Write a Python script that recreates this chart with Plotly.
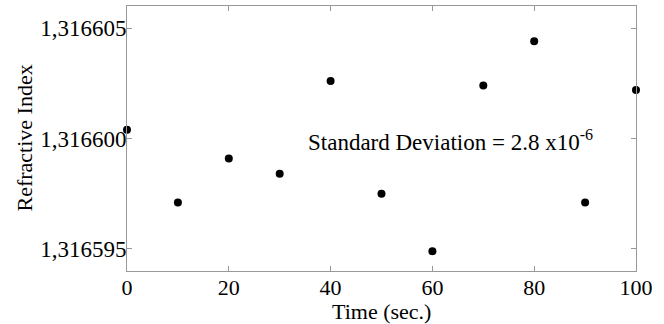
import plotly.graph_objects as go

time_s = [0, 10, 20, 30, 40, 50, 60, 70, 80, 90, 100]
refractive_index = [1.3166004, 1.3165971, 1.3165991, 1.3165984, 1.3166026,
                    1.3165975, 1.3165949, 1.3166024, 1.3166044, 1.3165971, 1.3166022]
y_tick_vals = [1.316595, 1.316600, 1.316605]
y_tick_text = ["1,316595", "1,316600", "1,316605"]
x_tick_vals = [0, 20, 40, 60, 80, 100]

font_family = "Liberation Serif, Times New Roman, serif"

fig = go.Figure()
fig.add_trace(go.Scatter(
    x=time_s, y=refractive_index, mode="markers",
    marker=dict(color="black", size=8), cliponaxis=False, showlegend=False))

axis_common = dict(showline=True, linecolor="#999999", linewidth=1, mirror="ticks",
                   ticks="inside", ticklen=5, tickcolor="#999999", showgrid=False,
                   zeroline=False)

fig.update_xaxes(range=[0, 100], tickvals=x_tick_vals,
                 tickfont=dict(family=font_family, size=22, color="black"),
                 ticklabelstandoff=-3,
                 **axis_common)
fig.update_yaxes(range=[1.316594, 1.316606], tickvals=y_tick_vals, ticktext=y_tick_text,
                 tickfont=dict(family=font_family, size=23, color="black"),
                 ticklabelstandoff=-5,
                 **axis_common)

fig.add_annotation(x=0.5, y=0, xref="paper", yref="paper", yanchor="middle",
                   yshift=-40, text="Time (sec.)", showarrow=False,
                   font=dict(family=font_family, size=22, color="black"))
fig.add_annotation(x=0, y=0.5, xref="paper", yref="paper", xanchor="center",
                   xshift=-103, text="Refractive Index", showarrow=False, textangle=-90,
                   font=dict(family=font_family, size=22, color="black"))

fig.add_annotation(x=63.5, y=1.3165999, xref="x", yref="y",
                   text="Standard Deviation = 2.8 x10<sup>-6</sup>", showarrow=False,
                   font=dict(family=font_family, size=23, color="black"))

fig.update_layout(width=664, height=324, margin=dict(l=127, r=28, t=6, b=53),
                  paper_bgcolor="white", plot_bgcolor="white")

fig.write_html("out.html", config={"displayModeBar": False},
               post_script="document.body.style.margin='0';")
